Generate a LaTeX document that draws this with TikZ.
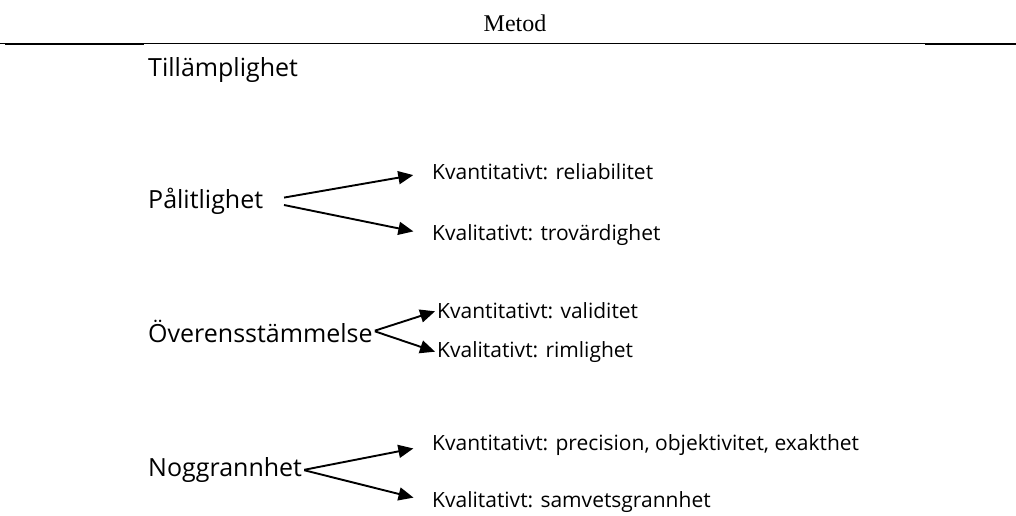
\documentclass[tikz,border=0pt]{standalone}
\usepackage{fontspec}
\setmainfont{Liberation Serif}
\newfontfamily\labelfont{Open Sans}
\usetikzlibrary{arrows.meta, positioning}

\tikzset{
  mainlbl/.style={anchor=west, inner sep=1pt, font=\labelfont\fontsize{25}{28}\selectfont},
  sublbl/.style={anchor=west, inner sep=1pt, font=\labelfont\fontsize{21}{24}\selectfont},
  branch/.style={-{Triangle[length=15pt,width=13pt]}, line width=1.9pt}
}

\begin{document}
\begin{tikzpicture}[x=1pt, y=-1pt]
    \useasboundingbox (0,0) rectangle (1016,516);
    % header
    \node[font=\fontsize{24}{28}\selectfont, anchor=base, inner sep=0pt] (title) at (515,32) {Metod};
    \draw[line width=1pt] (0,44) -- (1016,44);
    \draw[line width=2pt] (5,44) -- (144,44);
    \draw[line width=2pt] (925,44) -- (1016,44);

    \node[mainlbl] (till) at (147,70) {Tillämplighet};

    % Pålitlighet
    \node[mainlbl] (pal) at (147,201) {Pålitlighet};
    \node[sublbl] (palkvant) at (431,172) {Kvantitativt: reliabilitet};
    \node[sublbl] (palkval) at (431,235) {Kvalitativt: trovärdighet};
    \draw[branch, shorten <=20pt, shorten >=18pt] (pal.east) -- (palkvant.west);
    \draw[branch, shorten <=20pt, shorten >=18pt] (pal.east) -- (palkval.west);

    % Överensstämmelse
    \node[mainlbl] (over) at (147,331) {Överensstämmelse};
    \node[sublbl] (overkvant) at (436,311) {Kvantitativt: validitet};
    \node[sublbl] (overkval) at (436,352) {Kvalitativt: rimlighet};
    \draw[branch, shorten <=1pt, shorten >=1pt] (over.east) -- (overkvant.west);
    \draw[branch, shorten <=1pt, shorten >=1pt] (over.east) -- (overkval.west);

    % Noggrannhet
    \node[mainlbl] (nog) at (147,470) {Noggrannhet};
    \node[sublbl] (nogkvant) at (431,445) {Kvantitativt: precision, objektivitet, exakthet};
    \node[sublbl] (nogkval) at (431,502) {Kvalitativt: samvetsgrannhet};
    \draw[branch, shorten <=1pt, shorten >=18pt] (nog.east) -- (nogkvant.west);
    \draw[branch, shorten <=1pt, shorten >=18pt] (nog.east) -- (nogkval.west);
\end{tikzpicture}
\end{document}
